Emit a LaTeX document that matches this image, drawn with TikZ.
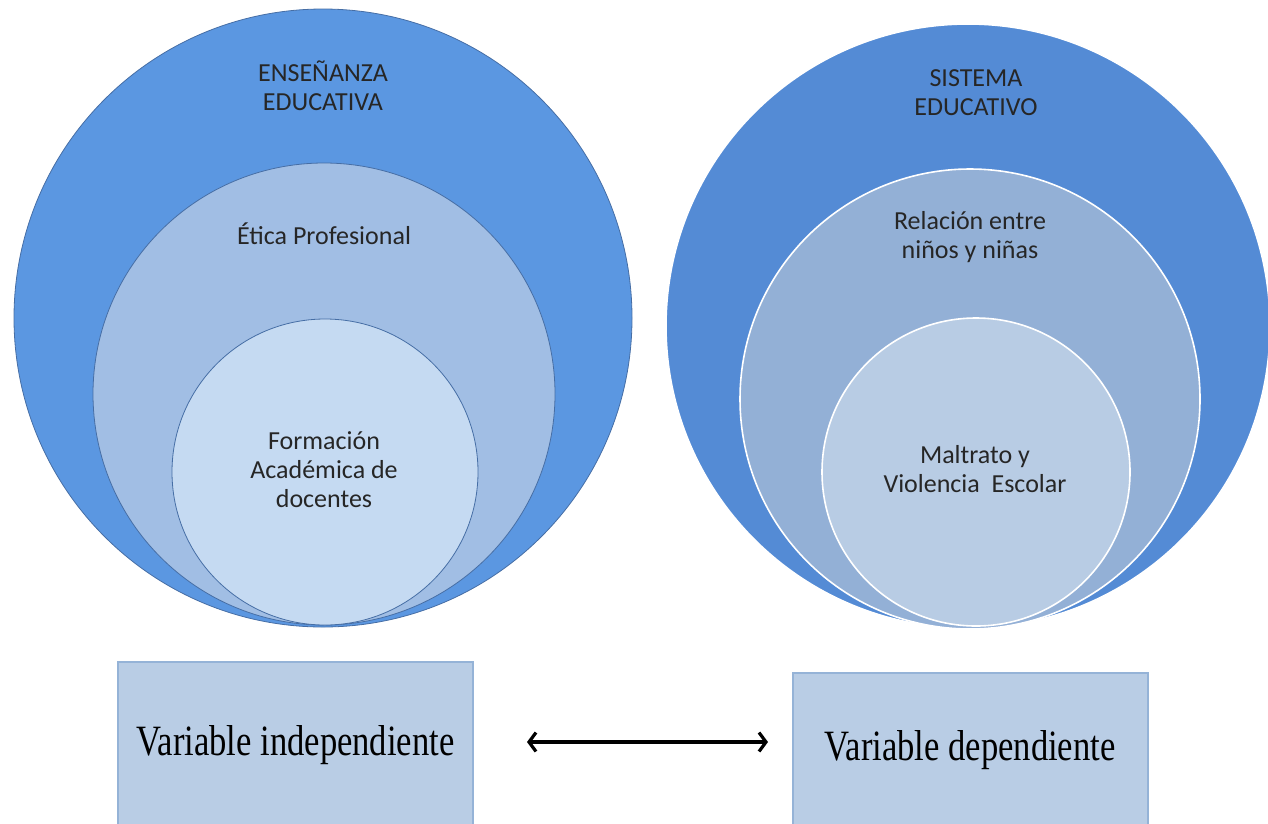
\documentclass[tikz,border=0pt]{standalone}
\usepackage{fontspec}
\setmainfont{Carlito}
\newfontfamily\serifv{Liberation Serif}
\newcommand\myvfont{\serifv\fontsize{34.6}{40}\selectfont}
\usetikzlibrary{arrows.meta}
\definecolor{louter}{RGB}{91,151,225}
\definecolor{lmid}{RGB}{161,190,228}
\definecolor{linner}{RGB}{197,218,242}
\definecolor{router}{RGB}{84,139,213}
\definecolor{rmid}{RGB}{147,176,214}
\definecolor{rinner}{RGB}{184,204,228}
\definecolor{boxfill}{RGB}{185,205,229}
\definecolor{boxline}{RGB}{149,179,215}
\definecolor{ledge}{RGB}{70,110,165}
\tikzset{
  lcirc/.style={draw=ledge, line width=0.8pt},
  rcirc/.style={draw=white, line width=1.6pt},
  ctext/.style={align=center, font=\fontsize{26}{29}\selectfont, text=black!85, inner sep=0pt},
  varbox/.style={draw=boxline, line width=2pt, fill=boxfill, minimum width=355pt, inner sep=0pt}
}
\begin{document}
\begin{tikzpicture}[x=1pt,y=-1pt]
\useasboundingbox (0,0) rectangle (1268,823);
\clip (0,0) rectangle (1268,823);
% left group
\fill[lcirc, fill=louter] (323,318) circle (309);
\fill[lcirc, fill=lmid] (324,394) circle (231);
\fill[lcirc, fill=linner] (325,472) circle (153);
\node[ctext] (t1) at (323,86) {ENSEÑANZA\\EDUCATIVA};
\node[ctext] (t2) at (324,234) {Ética Profesional};
\node[ctext] (t3) at (324,470) {Formación\\Académica de\\docentes};
% right group
\fill[rcirc, fill=router] (968,326) circle (302);
\fill[rcirc, fill=rmid] (970,399) circle (230);
\fill[rcirc, fill=rinner] (976,472) circle (154);
\node[ctext] (t4) at (976,93) {SISTEMA\\EDUCATIVO};
\node[ctext] (t5) at (970,237) {Relación entre\\niños y niñas};
\node[ctext] (t6) at (975,469) {Maltrato y\\Violencia\ \ Escolar};
% boxes
\node[varbox, minimum height=166pt] (vi) at (295.5,745) {\scalebox{1}[1.25]{\myvfont Variable independiente}};
\node[varbox, minimum height=154pt] (vd) at (970,750) {\scalebox{1}[1.25]{\myvfont Variable dependiente}};
\coordinate (a1) at (527,742);
\coordinate (a2) at (768,742);
\draw[line width=3.2pt, {Straight Barb[length=7pt,width=19pt]}-{Straight Barb[length=7pt,width=19pt]}] (a1) -- (a2);
\end{tikzpicture}
\end{document}
